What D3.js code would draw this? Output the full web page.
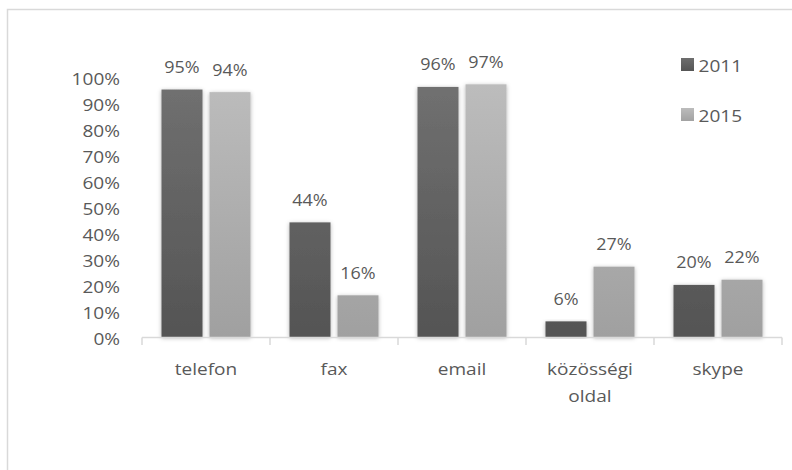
<!DOCTYPE html>
<html>
<head>
<meta charset="utf-8">
<script src="https://cdn.jsdelivr.net/npm/d3@7"></script>
<style>
  html, body { margin: 0; padding: 0; background: #fff; }
  svg { display: block; }
  text { font-family: "Open Sans", sans-serif; fill: #595959; }
</style>
</head>
<body>
<script>
const categories = [["telefon"], ["fax"], ["email"], ["közösségi", "oldal"], ["skype"]];
const seriesNames = ["2011", "2015"];
const values2011 = [95, 44, 96, 6, 20];
const values2015 = [94, 16, 97, 27, 22];
const yTicks = [0, 10, 20, 30, 40, 50, 60, 70, 80, 90, 100];

const W = 792, H = 470;
const STRETCH = 1.12;
const svg = d3.select("body").append("svg").attr("width", W).attr("height", H);
const defs = svg.append("defs");

const y = d3.scaleLinear().domain([0, 100]).range([337, 76.5]);
const catKeys = categories.map(c => c.join(" "));
const x0 = d3.scaleBand().domain(catKeys).range([142, 782]).paddingInner(0).paddingOuter(0);
const x1 = d3.scaleBand().domain(seriesNames).range([0, x0.bandwidth()]).paddingInner(0.146).paddingOuter(0.406);

// gradients (user space over the plot height)
const grads = [
  { id: "g2011", top: "#717171", bottom: "#545454" },
  { id: "g2015", top: "#bdbdbd", bottom: "#a0a0a0" }
];
grads.forEach(g => {
  const lg = defs.append("linearGradient").attr("id", g.id)
    .attr("gradientUnits", "userSpaceOnUse")
    .attr("x1", 0).attr("x2", 0).attr("y1", y(100)).attr("y2", y(0));
  lg.append("stop").attr("offset", "0%").attr("stop-color", g.top);
  lg.append("stop").attr("offset", "100%").attr("stop-color", g.bottom);
});
const lgGrads = [
  { id: "lg2011", top: "#6e6e6e", bottom: "#555555" },
  { id: "lg2015", top: "#bcbcbc", bottom: "#a2a2a2" }
];
lgGrads.forEach(g => {
  const lg = defs.append("linearGradient").attr("id", g.id)
    .attr("x1", 0).attr("x2", 0).attr("y1", 0).attr("y2", 1);
  lg.append("stop").attr("offset", "0%").attr("stop-color", g.top);
  lg.append("stop").attr("offset", "100%").attr("stop-color", g.bottom);
});

const filt = defs.append("filter").attr("id", "shadow")
  .attr("x", "-30%").attr("y", "-10%").attr("width", "160%").attr("height", "120%");
filt.append("feDropShadow").attr("dx", 0).attr("dy", 1).attr("stdDeviation", 2)
  .attr("flood-color", "#000").attr("flood-opacity", 0.3);

// chart border
svg.append("rect").attr("x", 7.5).attr("y", 9.5).attr("width", 820).attr("height", 520)
  .attr("fill", "none").attr("stroke", "#d9d9d9").attr("stroke-width", 1.5);

// y axis labels
const yAxis = d3.axisLeft(y).tickValues(yTicks).tickFormat(d => d + "%").tickSize(0).tickPadding(0);
const yg = svg.append("g").attr("transform", "translate(120,0)").call(yAxis);
yg.select(".domain").remove();
yg.selectAll("text").attr("font-size", 17).attr("font-family", "Open Sans")
  .attr("fill", "#595959").attr("dy", null).attr("y", 7.6).attr("x", 0);

// bars
const data = catKeys.map((k, i) => ({ key: k, vals: [values2011[i], values2015[i]] }));
const groups = svg.append("g").selectAll("g").data(data).join("g")
  .attr("transform", d => `translate(${x0(d.key)},0)`);
groups.selectAll("rect").data(d => d.vals.map((v, j) => ({ s: seriesNames[j], v }))).join("rect")
  .attr("x", d => x1(d.s)).attr("width", x1.bandwidth())
  .attr("y", d => y(d.v)).attr("height", d => y(0) - y(d.v))
  .attr("fill", d => `url(#g${d.s})`).attr("filter", "url(#shadow)");
groups.selectAll("text.val").data(d => d.vals.map((v, j) => ({ s: seriesNames[j], v }))).join("text")
  .attr("class", "val stretch")
  .attr("x", d => x1(d.s) + x1.bandwidth() / 2).attr("y", d => y(d.v) - 16.5)
  .attr("text-anchor", "middle").attr("font-size", 16).text(d => d.v + "%");

// x axis
const xAxis = d3.axisBottom(x0).tickSize(0).tickFormat("");
const xg = svg.append("g").attr("transform", `translate(0,${y(0) + 0.5})`).call(xAxis);
xg.select(".domain").attr("stroke", "#d9d9d9").attr("stroke-width", 1.5)
  .attr("d", `M${x0.range()[0]},0H${x0.range()[1]}`);
xg.selectAll(".tick").remove();
const bounds = catKeys.map(k => x0(k)).concat([x0.range()[1]]);
xg.selectAll("line.sep").data(bounds).join("line").attr("class", "sep")
  .attr("x1", d => d).attr("x2", d => d).attr("y1", 0).attr("y2", 7.5)
  .attr("stroke", "#d9d9d9").attr("stroke-width", 1.5);

// category labels
const cl = svg.append("g").selectAll("text").data(categories).join("text")
  .attr("x", (d, i) => x0(catKeys[i]) + x0.bandwidth() / 2)
  .attr("y", 375).attr("text-anchor", "middle").attr("font-size", 17);
cl.selectAll("tspan").data(d => d).join("tspan")
  .attr("class", "stretch")
  .attr("x", function () { return this.parentNode.getAttribute("x"); })
  .attr("dy", (d, i) => i === 0 ? 0 : 26.5).text(d => d);

// legend
const leg = svg.append("g").selectAll("g").data(seriesNames).join("g")
  .attr("transform", (d, i) => `translate(681,${58 + i * 50})`);
leg.append("rect").attr("width", 13).attr("height", 13).attr("fill", d => `url(#lg${d})`);
leg.append("text").attr("class", "stretch").attr("x", 17.5).attr("y", 13.5).attr("font-size", 17).text(d => d);

// horizontal stretch to mimic reference text widths
yg.selectAll("text").classed("stretch", true);
svg.selectAll("text.stretch, tspan.stretch").each(function () {
  const len = this.getComputedTextLength();
  if (len > 0) d3.select(this).attr("textLength", len * STRETCH).attr("lengthAdjust", "spacingAndGlyphs");
});
</script>
</body>
</html>
